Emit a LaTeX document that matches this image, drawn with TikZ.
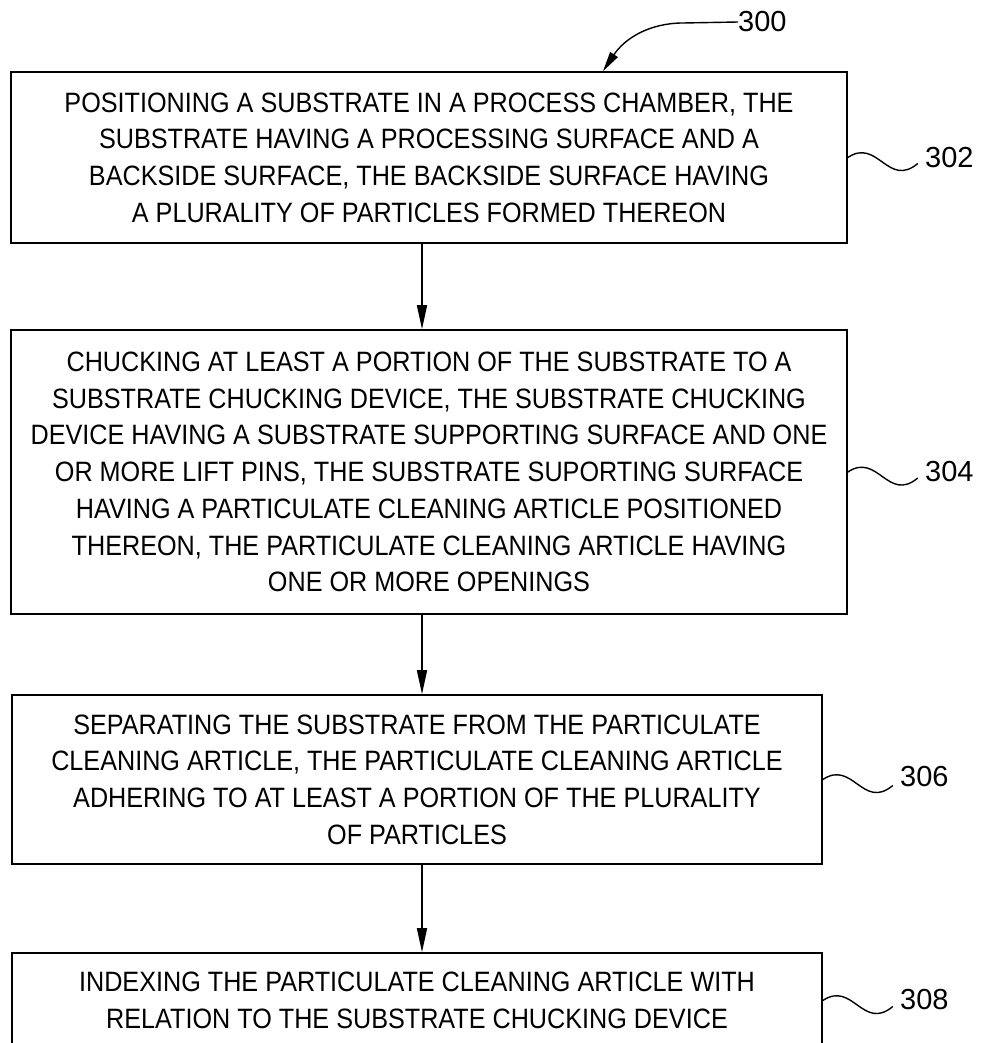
\documentclass[tikz,border=0pt]{standalone}
\usepackage{fontspec}
\setmainfont{Liberation Sans}
\newfontfamily\stepfont[FakeStretch=0.9]{Liberation Sans}
\usetikzlibrary{arrows.meta}

\tikzset{
  stepbox/.style={draw, line width=1.6pt, align=center, inner sep=0pt,
    font=\stepfont\fontsize{28}{36.7}\selectfont},
  flow/.style={line width=1.6pt, -{Triangle[length=24pt,width=10pt]}},
  refnum/.style={anchor=west, inner sep=0pt, font=\fontsize{29}{30}\selectfont},
  squiggle/.style={line width=1.4pt},
}

\begin{document}
\begin{tikzpicture}[x=1pt,y=-1pt]
  \useasboundingbox (0,0) rectangle (990,1043);
  \clip (0,0) rectangle (990,1043);

  % process steps
  \node[stepbox, minimum width=836pt, minimum height=171pt] (s302) at (429,157.5)
    {POSITIONING A SUBSTRATE IN A PROCESS CHAMBER, THE\\
     SUBSTRATE HAVING A PROCESSING SURFACE AND A\\
     BACKSIDE SURFACE, THE BACKSIDE SURFACE HAVING\\
     A PLURALITY OF PARTICLES FORMED THEREON};

  \node[stepbox, minimum width=836pt, minimum height=284pt] (s304) at (429,472)
    {CHUCKING AT LEAST A PORTION OF THE SUBSTRATE TO A\\
     SUBSTRATE CHUCKING DEVICE, THE SUBSTRATE CHUCKING\\
     DEVICE HAVING A SUBSTRATE SUPPORTING SURFACE AND ONE\\
     OR MORE LIFT PINS, THE SUBSTRATE SUPORTING SURFACE\\
     HAVING A PARTICULATE CLEANING ARTICLE POSITIONED\\
     THEREON, THE PARTICULATE CLEANING ARTICLE HAVING\\
     ONE OR MORE OPENINGS};

  \node[stepbox, minimum width=810pt, minimum height=169pt] (s306) at (417,779.5)
    {SEPARATING THE SUBSTRATE FROM THE PARTICULATE\\
     CLEANING ARTICLE, THE PARTICULATE CLEANING ARTICLE\\
     ADHERING TO AT LEAST A PORTION OF THE PLURALITY\\
     OF PARTICLES};

  \node[stepbox, minimum width=810pt, minimum height=95pt] (s308) at (417,1000.5)
    {INDEXING THE PARTICULATE CLEANING ARTICLE WITH\\
     RELATION TO THE SUBSTRATE CHUCKING DEVICE};

  % flow arrows along one column
  \coordinate (col) at (422,0);
  \draw[flow] (s302.south -| col) -- (s304.north -| col);
  \draw[flow] (s304.south -| col) -- (s306.north -| col);
  \draw[flow] (s306.south -| col) -- (s308.north -| col);

  % overall reference numeral
  \node[refnum] (r300) at (738,22) {300};
  \coordinate (l300) at (683,23);
  \coordinate (t300) at (603,0);
  \draw[line width=1.4pt] (r300.west) -- (l300);
  \draw[line width=1.4pt, -{Triangle[length=20pt,width=9pt]}]
    (l300) .. controls (650,23) and (625,38) .. (s302.north -| t300);

  % step reference numerals with wavy leaders
  \node[refnum] (r302) at (925,158) {302};
  \node[refnum] (r304) at (925,472) {304};
  \node[refnum] (r306) at (900,777) {306};
  \node[refnum] (r308) at (900,1000) {308};

  \draw[squiggle] (s302.east) .. controls +(30,-20) and +(-30,25) .. ++(70,6);
  \draw[squiggle] (s304.east) .. controls +(30,-20) and +(-30,25) .. ++(70,6);
  \draw[squiggle] (s306.east) .. controls +(30,-20) and +(-30,25) .. ++(70,6);
  \draw[squiggle] (s308.east) .. controls +(30,-20) and +(-30,25) .. ++(70,6);
\end{tikzpicture}
\end{document}
